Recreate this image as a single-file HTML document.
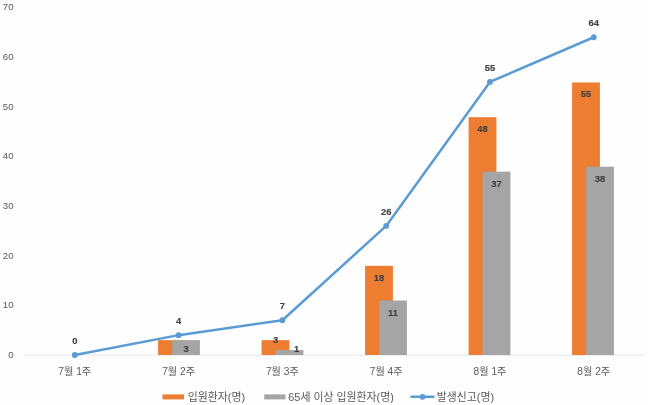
<!DOCTYPE html><html><head><meta charset="utf-8"><style>html,body{margin:0;padding:0;background:#fdfefd}svg{display:block}text{font-family:"Liberation Sans","Noto Sans CJK KR",sans-serif}.ax{font-size:9.6px;fill:#595959}.cat{font-size:10.2px;fill:#595959}.dl{font-size:9.4px;font-weight:bold;fill:#404040;stroke:#404040;stroke-width:0.15px}.lg{font-size:10.9px;fill:#595959}</style></head><body>
<svg width="648" height="405" viewBox="0 0 648 405">
<rect width="648" height="405" fill="#fdfefd"/>
<text class="ax" x="13.5" y="358.0" text-anchor="end">0</text>
<text class="ax" x="13.5" y="308.4" text-anchor="end">10</text>
<text class="ax" x="13.5" y="258.7" text-anchor="end">20</text>
<text class="ax" x="13.5" y="209.1" text-anchor="end">30</text>
<text class="ax" x="13.5" y="159.4" text-anchor="end">40</text>
<text class="ax" x="13.5" y="109.8" text-anchor="end">50</text>
<text class="ax" x="13.5" y="60.1" text-anchor="end">60</text>
<text class="ax" x="13.5" y="10.4" text-anchor="end">70</text>
<line x1="23.6" y1="355.2" x2="644.9" y2="355.2" stroke="#E2E2E2" stroke-width="0.8"/>
<rect x="158.10" y="340.13" width="27.8" height="14.87" fill="#ED7D31"/>
<rect x="172.10" y="340.13" width="27.8" height="14.87" fill="#A5A5A5"/>
<rect x="261.60" y="340.13" width="27.8" height="14.87" fill="#ED7D31"/>
<rect x="275.60" y="350.05" width="27.8" height="4.96" fill="#A5A5A5"/>
<rect x="365.10" y="265.81" width="27.8" height="89.19" fill="#ED7D31"/>
<rect x="379.10" y="300.50" width="27.8" height="54.51" fill="#A5A5A5"/>
<rect x="468.60" y="117.16" width="27.8" height="237.84" fill="#ED7D31"/>
<rect x="482.60" y="171.66" width="27.8" height="183.34" fill="#A5A5A5"/>
<rect x="572.10" y="82.48" width="27.8" height="272.52" fill="#ED7D31"/>
<rect x="586.10" y="166.71" width="27.8" height="188.29" fill="#A5A5A5"/>
<polyline points="74.80,355.00 178.59,335.14 282.38,320.25 386.17,225.91 489.96,81.93 593.75,37.24" fill="none" stroke="#5B9BD5" stroke-width="2.5" stroke-linejoin="round" stroke-linecap="round"/>
<circle cx="74.80" cy="355.00" r="2.9" fill="#5B9BD5"/>
<circle cx="178.59" cy="335.14" r="2.9" fill="#5B9BD5"/>
<circle cx="282.38" cy="320.25" r="2.9" fill="#5B9BD5"/>
<circle cx="386.17" cy="225.91" r="2.9" fill="#5B9BD5"/>
<circle cx="489.96" cy="81.93" r="2.9" fill="#5B9BD5"/>
<circle cx="593.75" cy="37.24" r="2.9" fill="#5B9BD5"/>
<text class="dl" x="74.8" y="343.9" text-anchor="middle">0</text>
<text class="dl" x="178.6" y="324.0" text-anchor="middle">4</text>
<text class="dl" x="186.0" y="351.9" text-anchor="middle">3</text>
<text class="dl" x="282.4" y="309.1" text-anchor="middle">7</text>
<text class="dl" x="275.5" y="343.2" text-anchor="middle">3</text>
<text class="dl" x="296.5" y="351.9" text-anchor="middle">1</text>
<text class="dl" x="386.2" y="214.8" text-anchor="middle">26</text>
<text class="dl" x="379.0" y="280.8" text-anchor="middle">18</text>
<text class="dl" x="393.0" y="315.7" text-anchor="middle">11</text>
<text class="dl" x="490.0" y="70.8" text-anchor="middle">55</text>
<text class="dl" x="482.5" y="132.1" text-anchor="middle">48</text>
<text class="dl" x="496.5" y="186.9" text-anchor="middle">37</text>
<text class="dl" x="593.8" y="26.1" text-anchor="middle">64</text>
<text class="dl" x="586.0" y="97.4" text-anchor="middle">55</text>
<text class="dl" x="600.0" y="182.0" text-anchor="middle">38</text>
<text class="cat" x="74.8" y="374.5" text-anchor="middle">7월 1주</text>
<text class="cat" x="178.6" y="374.5" text-anchor="middle">7월 2주</text>
<text class="cat" x="282.4" y="374.5" text-anchor="middle">7월 3주</text>
<text class="cat" x="386.2" y="374.5" text-anchor="middle">7월 4주</text>
<text class="cat" x="490.0" y="374.5" text-anchor="middle">8월 1주</text>
<text class="cat" x="593.8" y="374.5" text-anchor="middle">8월 2주</text>
<rect x="162.5" y="394.4" width="21.5" height="5" fill="#ED7D31"/>
<text class="lg" x="187.8" y="400.8">입원환자(명)</text>
<rect x="264.2" y="394.4" width="21.3" height="5" fill="#A5A5A5"/>
<text class="lg" x="288.3" y="400.8">65세 이상 입원환자(명)</text>
<line x1="411.5" y1="396.8" x2="433.5" y2="396.8" stroke="#5B9BD5" stroke-width="2.4" stroke-linecap="round"/>
<circle cx="422.6" cy="396.8" r="2.9" fill="#5B9BD5"/>
<text class="lg" x="436.7" y="400.8">발생신고(명)</text>
</svg></body></html>
